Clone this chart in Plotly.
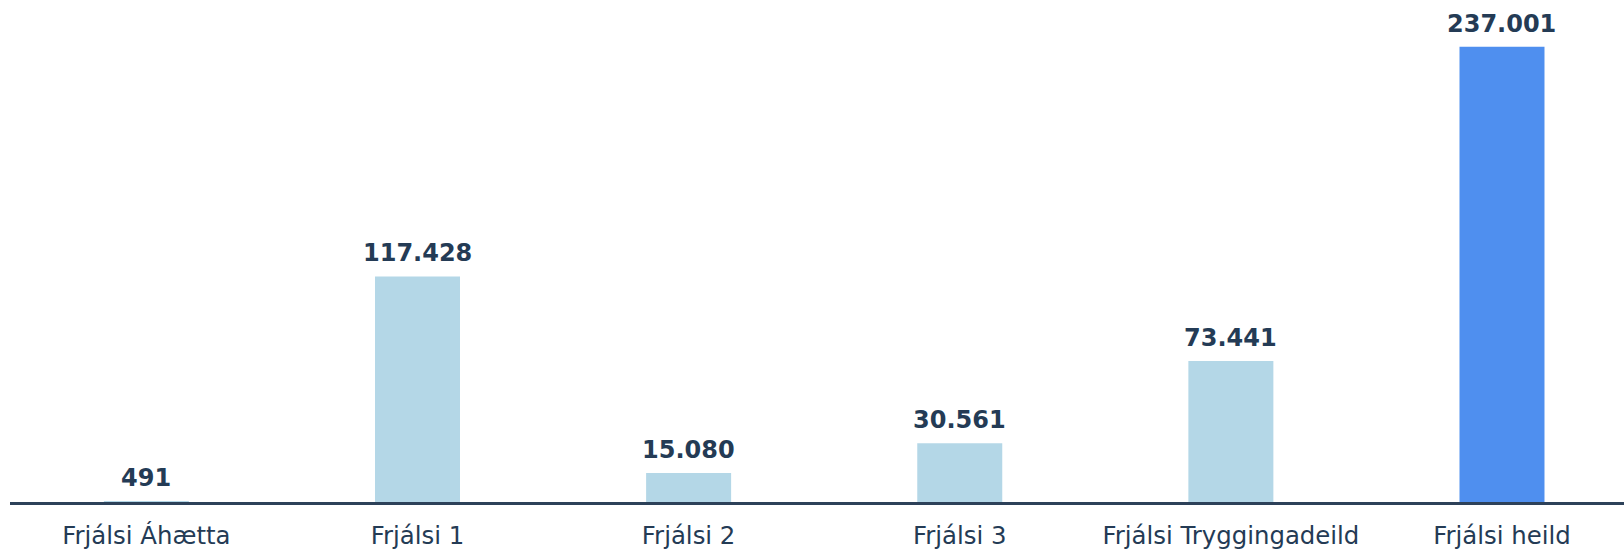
import plotly.graph_objects as go

categories = ["Frjálsi Áhætta", "Frjálsi 1", "Frjálsi 2", "Frjálsi 3", "Frjálsi Tryggingadeild", "Frjálsi heild"]
values = [491, 117428, 15080, 30561, 73441, 237001]
labels = ["491", "117.428", "15.080", "30.561", "73.441", "237.001"]
bar_colors = ["#b4d7e7", "#b4d7e7", "#b4d7e7", "#b4d7e7", "#b4d7e7", "#4f8fef"]

TEXT = "#243b55"
FONT = "DejaVu Sans"

fig = go.Figure()
fig.add_trace(go.Bar(
    x=list(range(len(categories))), y=values,
    marker=dict(color=bar_colors, line=dict(width=0)),
    width=0.3135, hoverinfo="skip",
))

for i, (v, t) in enumerate(zip(values, labels)):
    fig.add_annotation(x=i, y=v, text=f"<b>{t}</b>", showarrow=False,
                       yanchor="bottom", xanchor="center", yshift=7,
                       font=dict(family=FONT, size=24, color=TEXT))

fig.update_layout(
    width=1624, height=551,
    margin=dict(l=10, r=0, t=0, b=48.5, autoexpand=False),
    paper_bgcolor="white", plot_bgcolor="white",
    showlegend=False,
    xaxis=dict(
        range=[-0.503, 5.450], automargin=False,
        tickmode="array", tickvals=list(range(len(categories))), ticktext=categories,
        showline=True, linewidth=3, linecolor="#2d4159",
        showgrid=False, zeroline=False,
        ticks="outside", ticklen=10, tickcolor="rgba(0,0,0,0)",
        tickfont=dict(family=FONT, size=24.4, color=TEXT),
    ),
    yaxis=dict(range=[0, 261285], visible=False, showgrid=False, zeroline=False,
               automargin=False),
)

fig.write_html("out.html", config={"displayModeBar": False},
               post_script="document.body.style.margin='0';")
